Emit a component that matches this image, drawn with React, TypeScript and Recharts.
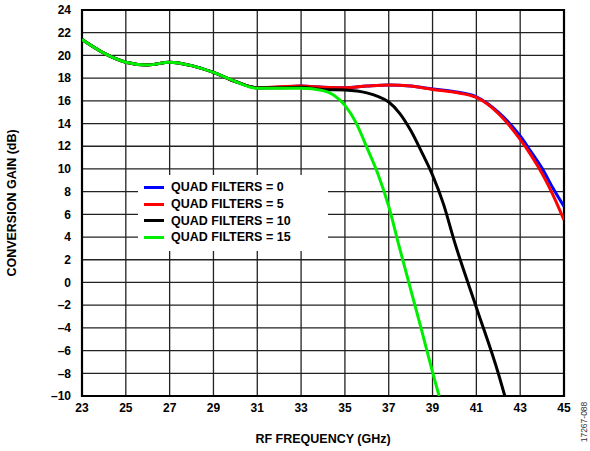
import React from 'react';
import { LineChart, Line, XAxis, YAxis, CartesianGrid, ReferenceArea } from 'recharts';

const freqAll = [23, 24, 25, 26, 27, 28, 29, 30, 31, 32, 33, 34, 35, 36, 37, 38, 39, 40, 41, 42, 43, 43.5, 44, 44.5, 45];
const gainQF0 = [21.4, 20.2, 19.4, 19.15, 19.4, 19.1, 18.5, 17.7, 17.15, 17.2, 17.3, 17.2, 17.15, 17.3, 17.4, 17.3, 17.05, 16.8, 16.35, 15.0, 12.9, 11.5, 10.05, 8.3, 6.7];
const gainQF5 = [21.4, 20.2, 19.4, 19.15, 19.4, 19.1, 18.5, 17.7, 17.15, 17.25, 17.3, 17.2, 17.15, 17.3, 17.4, 17.3, 17.0, 16.75, 16.3, 14.9, 12.6, 11.2, 9.6, 7.7, 5.5];

const freqQF10 = [23, 24, 25, 26, 27, 28, 29, 30, 31, 32, 33, 34, 35, 36, 36.5, 37, 37.5, 38, 38.5, 39, 39.5, 40, 41, 42, 42.3];
const gainQF10 = [21.4, 20.2, 19.4, 19.15, 19.4, 19.1, 18.5, 17.7, 17.15, 17.15, 17.2, 17.0, 16.95, 16.7, 16.4, 15.9, 14.9, 13.4, 11.5, 9.45, 6.9, 3.6, -2.2, -8.0, -10];

const freqQF15 = [23, 24, 25, 26, 27, 28, 29, 30, 31, 32, 33, 34, 34.5, 35, 35.5, 36, 36.5, 37, 37.5, 38, 38.5, 39, 39.3];
const gainQF15 = [21.4, 20.2, 19.4, 19.15, 19.4, 19.1, 18.5, 17.7, 17.1, 17.1, 17.1, 16.9, 16.5, 15.6, 14.1, 11.9, 9.6, 6.7, 3.0, -0.6, -4.2, -7.9, -10];

const xTicks = [23, 25, 27, 29, 31, 33, 35, 37, 39, 41, 43, 45];
const yTicks = [-10, -8, -6, -4, -2, 0, 2, 4, 6, 8, 10, 12, 14, 16, 18, 20, 22, 24];

const toPoints = (xs: number[], ys: number[]) => xs.map((x, i) => ({ x, y: ys[i] }));

const series = [
  { name: 'QUAD FILTERS = 0', color: '#0000ff', data: toPoints(freqAll, gainQF0) },
  { name: 'QUAD FILTERS = 5', color: '#ff0000', data: toPoints(freqAll, gainQF5) },
  { name: 'QUAD FILTERS = 10', color: '#000000', data: toPoints(freqQF10, gainQF10) },
  { name: 'QUAD FILTERS = 15', color: '#00ee00', data: toPoints(freqQF15, gainQF15) },
];

const FONT = '"Liberation Sans", Arial, sans-serif';
const tickStyle = { fontFamily: FONT, fontSize: 12, fontWeight: 700, fill: '#000' };

// legend drawn as an overlay box so it does not shrink the plot
const LegendBox = () => (
  <div
    style={{
      position: 'absolute',
      left: 138,
      top: 175,
      background: '#fff',
      width: 190,
      height: 76,
      paddingTop: 4,
      boxSizing: 'border-box',
    }}
  >
    {series.map((s) => (
      <div key={s.name} style={{ display: 'flex', alignItems: 'center', height: 16.7 }}>
        <div style={{ width: 20, height: 3, background: s.color, marginLeft: 6, marginRight: 7 }} />
        <span style={{ fontFamily: FONT, fontSize: 12.5, fontWeight: 700, color: '#000' }}>{s.name}</span>
      </div>
    ))}
  </div>
);

const App: React.FC = () => {
  return (
    <div style={{ position: 'fixed', left: 0, top: 0, width: 590, height: 451, background: '#fff', overflow: 'hidden' }}>
      <LineChart width={590} height={451} margin={{ top: 10, right: 26, bottom: 0, left: 0 }}>
        <CartesianGrid stroke="#222" strokeWidth={1.3} />
        <XAxis
          type="number"
          dataKey="x"
          domain={[23, 45]}
          ticks={xTicks}
          interval={0}
          allowDataOverflow
          height={55}
          tickLine={false}
          tickSize={0}
          tickMargin={7}
          axisLine={false}
          tick={tickStyle}
          label={{ value: 'RF FREQUENCY (GHz)', position: 'insideBottom', offset: 8, style: { ...tickStyle, fontSize: 12.5 } }}
        />
        <YAxis
          type="number"
          domain={[-10, 24]}
          ticks={yTicks}
          interval={0}
          allowDataOverflow
          width={82}
          tickLine={false}
          tickSize={0}
          tickMargin={11}
          axisLine={false}
          tick={tickStyle}
          tickFormatter={(v: number) => String(v).replace('-', '\u2013')}
          label={{ value: 'CONVERSION GAIN (dB)', angle: -90, position: 'insideLeft', offset: 12, style: { ...tickStyle, fontSize: 12.5, textAnchor: 'middle' } }}
        />
        <ReferenceArea x1={23} x2={45} y1={-10} y2={24} fill="none" stroke="#000" strokeWidth={2.2} />
        {series.map((s) => (
          <Line
            key={s.name}
            data={s.data}
            dataKey="y"
            name={s.name}
            type="monotone"
            stroke={s.color}
            strokeWidth={3}
            dot={false}
            isAnimationActive={false}
          />
        ))}
      </LineChart>
      <LegendBox />
      <div
        style={{
          position: 'absolute',
          left: 584,
          top: 422,
          transform: 'translate(-50%, -50%) rotate(-90deg)',
          fontFamily: FONT,
          fontSize: 8.5,
          lineHeight: '9px',
          color: '#333',
          whiteSpace: 'nowrap',
        }}
      >
        17267-088
      </div>
    </div>
  );
};

export default App;
